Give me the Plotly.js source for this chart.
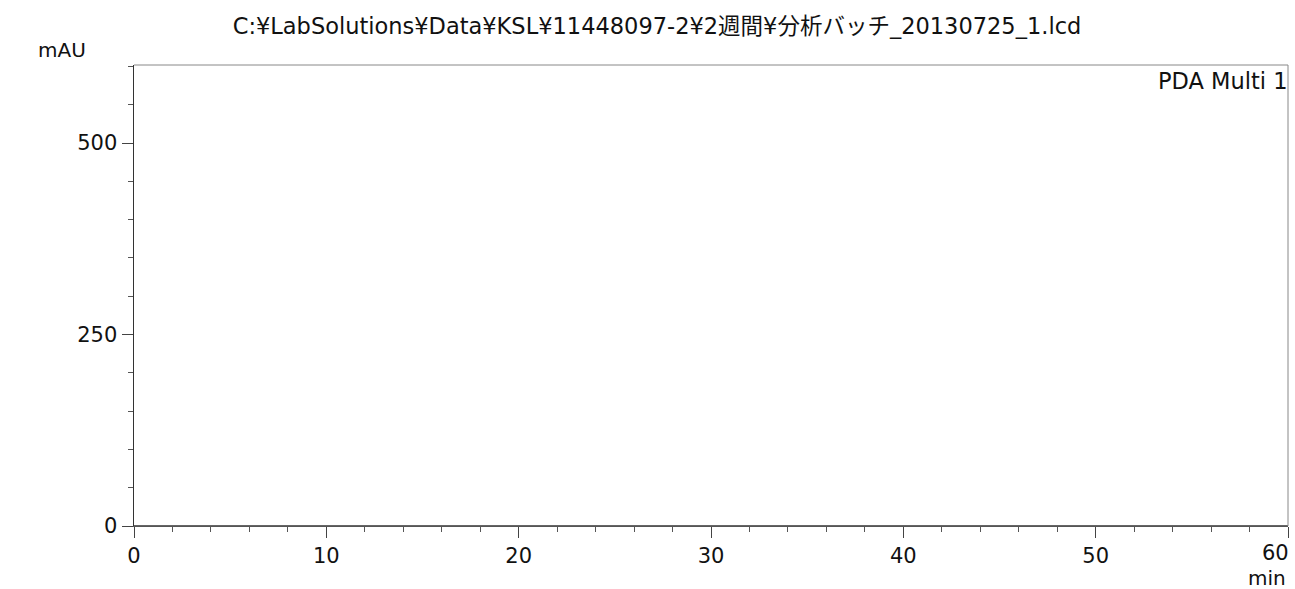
<!DOCTYPE html>
<html>
<head>
<meta charset="utf-8">
<script src="https://cdn.plot.ly/plotly-3.0.1.min.js"></script>
<style>html,body{margin:0;padding:0;background:#fff;}#chart{width:1295px;height:589px;}</style>
</head>
<body>
<div id="chart"></div>
<script>
// Chromatogram data (flat baseline, no peaks visible)
const timeMin = [0, 10, 20, 30, 40, 50, 60];
const absorbanceMAU = [0, 0, 0, 0, 0, 0, 0];
const xTickVals = [0, 10, 20, 30, 40, 50, 60];
const xTickLabels = ["0", "10", "20", "30", "40", "50", ""];
const lastXTickLabel = "60";
const yTickVals = [0, 250, 500];
const yTickLabels = ["0", "250", "500"];
const titleText = "C:¥LabSolutions¥Data¥KSL¥11448097-2¥2週間¥分析バッチ_20130725_1.lcd";
const channelName = "PDA Multi 1";
const yUnit = "mAU";
const xUnit = "min";

const FONT = "'DejaVu Sans', 'Noto Sans CJK JP', sans-serif";
const INK = "#111";

const trace = {
  x: timeMin, y: absorbanceMAU, type: "scatter", mode: "lines",
  line: {color: "#333", width: 1.3}, hoverinfo: "skip", showlegend: false
};

const layout = {
  width: 1295, height: 589,
  margin: {l: 134, r: 7, t: 65, b: 63},
  paper_bgcolor: "#fff", plot_bgcolor: "#fff",
  font: {family: FONT, color: INK, size: 21},
  title: {text: titleText, x: 657/1295, xanchor: "center", xref: "container",
          y: 1 - 26/589, yanchor: "middle", yref: "container",
          font: {family: FONT, size: 22.5, color: INK}},
  xaxis: {
    range: [0, 60], tickvals: xTickVals, ticktext: xTickLabels,
    ticks: "outside", ticklen: 11, tickwidth: 1, tickcolor: "#444",
    showline: true, linecolor: "#555", linewidth: 1,
    showgrid: false, zeroline: false, fixedrange: true,
    tickfont: {family: FONT, size: 21, color: INK},
    minor: {dtick: 2, ticks: "outside", ticklen: 5, tickcolor: "#555", tickwidth: 1, showgrid: false}
  },
  yaxis: {
    range: [0, 602], tickvals: yTickVals, ticktext: yTickLabels,
    ticks: "outside", ticklen: 11, tickwidth: 1, tickcolor: "#444",
    showline: true, linecolor: "#333", linewidth: 1.5,
    showgrid: false, zeroline: false, fixedrange: true,
    tickfont: {family: FONT, size: 21, color: INK},
    minor: {dtick: 50, ticks: "outside", ticklen: 5, tickcolor: "#555", tickwidth: 1, showgrid: false}
  },
  shapes: [
    {type: "line", xref: "paper", yref: "paper", x0: 0, x1: 1, y0: 1, y1: 1, line: {color: "#888", width: 1}},
    {type: "line", xref: "paper", yref: "paper", x0: 1, x1: 1, y0: 0, y1: 1, line: {color: "#888", width: 1}}
  ],
  annotations: [
    {text: yUnit, xref: "paper", yref: "paper", x: -97/1148, y: 1, xanchor: "left", yanchor: "bottom",
     yshift: 1, showarrow: false, font: {family: FONT, size: 20, color: INK}},
    {text: lastXTickLabel, xref: "x", yref: "paper", x: xTickVals[xTickVals.length - 1], y: 0,
     xanchor: "right", yanchor: "top", xshift: 3, yshift: -13, showarrow: false,
     font: {family: FONT, size: 21, color: INK}},
    {text: xUnit, xref: "paper", yref: "paper", x: 1, y: 0, xanchor: "right", yanchor: "top",
     yshift: -38, showarrow: false, font: {family: FONT, size: 20, color: INK}},
    {text: channelName, xref: "paper", yref: "paper", x: 1, y: 1, xanchor: "right", yanchor: "top",
     xshift: 2, yshift: -1, showarrow: false, font: {family: FONT, size: 22.5, color: INK}}
  ]
};

Plotly.newPlot("chart", [trace], layout, {displayModeBar: false, staticPlot: true});
</script>
</body>
</html>
